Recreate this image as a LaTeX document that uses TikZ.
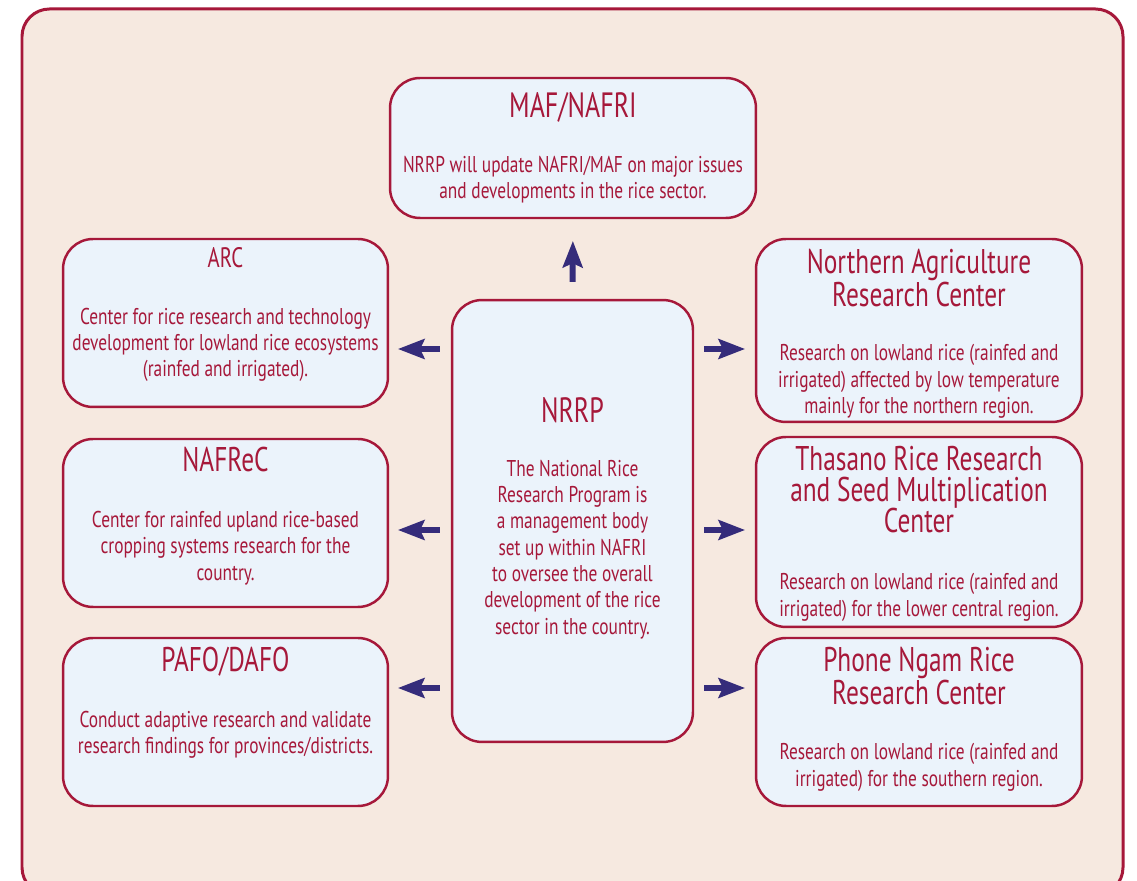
\documentclass[tikz,border=0pt]{standalone}
\usepackage{fontspec}
\setmainfont{PT Sans}[FakeStretch=0.74]
\newfontfamily\bodyfont{PT Sans}[FakeStretch=0.76]
\usepackage{xcolor}
\usetikzlibrary{arrows.meta,positioning}
\definecolor{peach}{HTML}{F6E9E0}
\definecolor{paleblue}{HTML}{EBF3FB}
\definecolor{crimson}{HTML}{A6183A}
\definecolor{navy}{HTML}{352C7B}

\begin{document}
\begin{tikzpicture}[x=0.02cm,y=-0.02cm]
	\tikzset{box/.style = {draw=crimson, fill=paleblue, line width=1.4pt, rounded corners=0.6cm, minimum width=6.5cm, minimum height=3.36cm}}
	\tikzset{title/.style = {text=crimson, inner sep=0, align=center, text depth=0pt, font=\fontsize{19.5}{17.8}\selectfont}}
	\tikzset{body/.style = {text=crimson, inner sep=0, align=center, font=\bodyfont\fontsize{13}{15}\selectfont}}
	\tikzset{arr/.style = {draw=navy, line width=0.12cm, -{Stealth[length=0.54cm, width=0.42cm, inset=0.1cm, line width=0pt]}}}
	\clip (0,0) rectangle (1137,881);
	\fill[white] (0,0) rectangle (1137,881);
	\draw[crimson, fill=peach, line width=1.7pt, rounded corners=0.55cm] (22,9) rectangle (1123,895);
	%boxes
	\node[box, minimum width=7.32cm, minimum height=2.8cm] (maf) at (573,148) {};
	\node[box] (arc) at (225.5,323) {};
	\node[box] (nafrec) at (225.5,523) {};
	\node[box] (pafo) at (225.5,722) {};
	\node[box, minimum width=4.82cm, minimum height=8.84cm] (nrrp) at (572.5,521) {};
	\node[box, minimum width=6.52cm, minimum height=3.66cm] (north) at (919,330.5) {};
	\node[box, minimum width=6.52cm, minimum height=3.8cm] (thasano) at (919,532) {};
	\node[box, minimum width=6.52cm] (phone) at (919,722) {};
	%titles
	\node[title, font=\fontsize{20}{18}\selectfont, below=0.3cm of maf.north] (maft) {MAF/NAFRI};
	\node[title, font=\fontsize{16}{16}\selectfont, below=0.18cm of arc.north] (arct) {ARC};
	\node[title, below=0.18cm of nafrec.north] (nafrect) {NAFReC};
	\node[title, below=0.2cm of pafo.north] (pafot) {PAFO/DAFO};
	\node[title, font=\fontsize{20}{18}\selectfont, below=1.96cm of nrrp.north] (nrrpt) {NRRP};
	\node[title, below=0.22cm of north.north] (northt) {Northern Agriculture\\Research Center};
	\node[title, below=0.2cm of thasano.north] (thasanot) {Thasano Rice Research\\and Seed Multiplication\\Center};
	\node[title, below=0.2cm of phone.north] (phonet) {Phone Ngam Rice\\Research Center};
	%texts
	\node[body, below=0.76cm of maft] (mafb) {NRRP will update NAFRI/MAF on major issues\\and developments in the rice sector.};
	\node[body, below=0.8cm of arct] (arcb) {Center for rice research and technology\\development for lowland rice ecosystems\\(rainfed and irrigated).};
	\node[body, below=0.78cm of nafrect] (nafrecb) {Center for rainfed upland rice-based\\cropping systems research for the\\country.};
	\node[body, below=0.78cm of pafot] (pafob) {Conduct adaptive research and validate\\research findings for provinces/districts.};
	\node[body, below=0.74cm of nrrpt] (nrrpb) {The National Rice\\Research Program is\\a management body\\set up within NAFRI\\to oversee the overall\\development of the rice\\sector in the country.};
	\node[body, below=0.74cm of northt] (northb) {Research on lowland rice (rainfed and\\irrigated) affected by low temperature\\mainly for the northern region.};
	\node[body, below=0.8cm of thasanot] (thasanob) {Research on lowland rice (rainfed and\\irrigated) for the lower central region.};
	\node[body, below=0.76cm of phonet] (phoneb) {Research on lowland rice (rainfed and\\irrigated) for the southern region.};
	%edges
	\draw[arr, shorten <=0.34cm, shorten >=0.44cm] (nrrp.north) -- (maf.south);
	\draw[arr, shorten <=0.22cm, shorten >=0.18cm] (nrrp.west |- 0,349) -- (arc.east |- 0,349);
	\draw[arr, shorten <=0.22cm, shorten >=0.18cm] (nrrp.west |- 0,530) -- (nafrec.east |- 0,530);
	\draw[arr, shorten <=0.22cm, shorten >=0.18cm] (nrrp.west |- 0,688) -- (pafo.east |- 0,688);
	\draw[arr, shorten <=0.2cm, shorten >=0.2cm] (nrrp.east |- 0,349) -- (north.west |- 0,349);
	\draw[arr, shorten <=0.2cm, shorten >=0.2cm] (nrrp.east |- 0,530) -- (thasano.west |- 0,530);
	\draw[arr, shorten <=0.2cm, shorten >=0.2cm] (nrrp.east |- 0,688) -- (phone.west |- 0,688);
\end{tikzpicture}
\end{document}
